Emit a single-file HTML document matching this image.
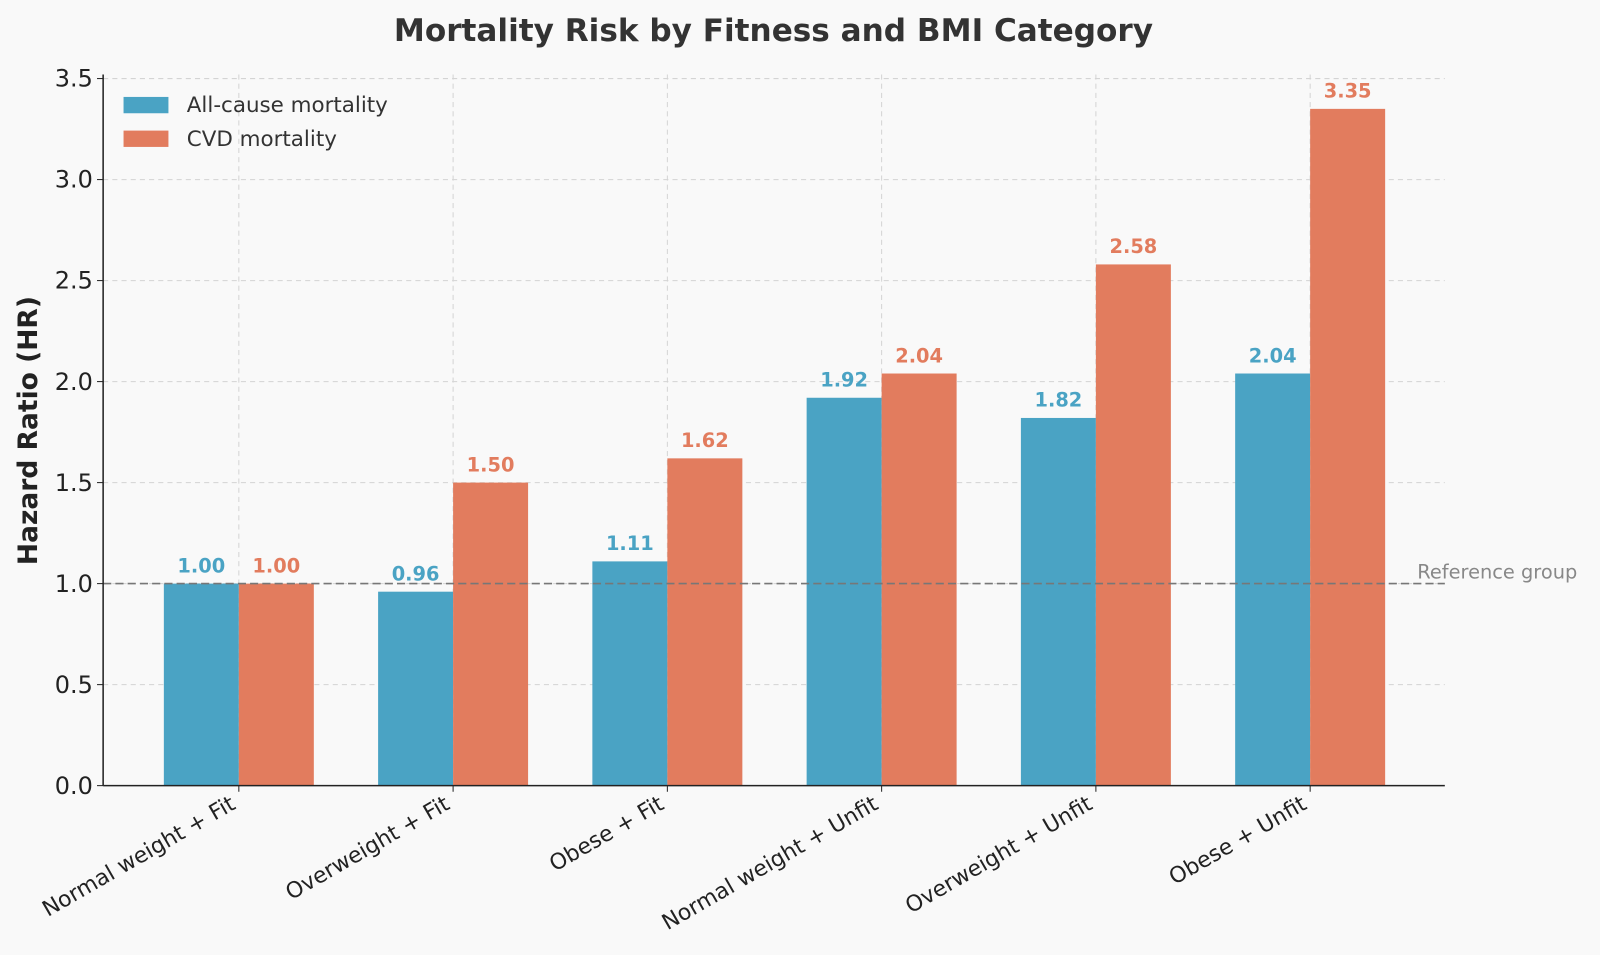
<!DOCTYPE html>
<html><head><meta charset="utf-8"><style>
body{margin:0;background:#f9f9f9;}
svg{display:block;font-family:"DejaVu Sans","Liberation Sans",sans-serif;}
</style></head><body>
<svg id="chart" width="1600" height="955" viewBox="0 0 1568 936">
<rect width="1568" height="936" fill="#f9f9f9"/>
<text x="758" y="40" text-anchor="middle" font-size="30.5" font-weight="bold" fill="#333">Mortality Risk by Fitness and BMI Category</text>
<text transform="translate(36,422) rotate(-90)" text-anchor="middle" font-size="26" font-weight="bold" fill="#222">Hazard Ratio (HR)</text>
<g id="grid"></g><g id="bars"></g><g id="labels"></g><g id="axes"></g>
<g>
<rect x="121" y="95" width="44" height="16" fill="#4aa3c4"/>
<text x="183" y="110" font-size="21" fill="#333">All-cause mortality</text>
<rect x="121" y="128" width="44" height="16" fill="#e27c5e"/>
<text x="183" y="143" font-size="21" fill="#333">CVD mortality</text>
</g>
</svg>
<script>
const categories=["Normal weight + Fit","Overweight + Fit","Obese + Fit","Normal weight + Unfit","Overweight + Unfit","Obese + Unfit"];
const allCause=[1.00,0.96,1.11,1.92,1.82,2.04];
const cvd=[1.00,1.50,1.62,2.04,2.58,3.35];
const yTicks=[0,0.5,1,1.5,2,2.5,3,3.5];
const refValue=1.0;
const NS="http://www.w3.org/2000/svg";
const L=101,R=1416,Y0=770,YTOP=77,YMAX=3.5;
const y=v=>Y0-(v/YMAX)*(Y0-YTOP);
const x=i=>234+210*i;
const bw=73.5;
function mk(tag,attrs,parent){const e=document.createElementNS(NS,tag);for(const k in attrs)e.setAttribute(k,attrs[k]);document.getElementById(parent).appendChild(e);return e;}
yTicks.forEach(t=>{
  if(t>0){const g=mk('line',{x1:L,x2:R,y1:y(t),y2:y(t),stroke:'#d4d4d4','stroke-dasharray':'5,4','stroke-width':1},'grid');
  
  }
  const tl=mk('text',{x:L-10,y:y(t)+8,'text-anchor':'end','font-size':23.5,fill:'#222'},'axes');tl.textContent=t.toFixed(1);
  
  
  const tk=mk('line',{x1:L-6,x2:L,y1:y(t),y2:y(t),stroke:'#222'},'axes');
  
  
});
categories.forEach((c,i)=>{
  const g=mk('line',{x1:x(i),x2:x(i),y1:YTOP-4,y2:Y0,stroke:'#d4d4d4','stroke-dasharray':'5,4'},'grid');
  
  
  const b1=mk('rect',{x:x(i)-bw,y:y(allCause[i]),width:bw,height:Y0-y(allCause[i]),fill:'#4aa3c4'},'bars');
  
  
  const b2=mk('rect',{x:x(i),y:y(cvd[i]),width:bw,height:Y0-y(cvd[i]),fill:'#e27c5e'},'bars');
  
  
  const t1=mk('text',{x:x(i)-bw/2,y:y(allCause[i])-11,'text-anchor':'middle','font-size':19,'font-weight':'bold',fill:'#4aa3c4'},'labels');t1.textContent=allCause[i].toFixed(2);
  
  
  const t2=mk('text',{x:x(i)+bw/2,y:y(cvd[i])-11,'text-anchor':'middle','font-size':19,'font-weight':'bold',fill:'#e27c5e'},'labels');t2.textContent=cvd[i].toFixed(2);
  
  
  const xl=mk('text',{transform:`translate(${x(i)-2},${Y0+22}) rotate(-30)`,'text-anchor':'end','font-size':21.5,fill:'#222'},'axes');xl.textContent=c;
  
  
  const tk=mk('line',{x1:x(i),x2:x(i),y1:Y0,y2:Y0+6,stroke:'#222'},'axes');
  
  
});
const rl=mk('line',{x1:L,x2:R,y1:y(refValue),y2:y(refValue),stroke:'#777','stroke-dasharray':'8,4','stroke-width':1.6},'labels');


const rt=mk('text',{x:1389,y:y(refValue)-5,'font-size':19,fill:'#888'},'labels');rt.textContent='Reference group';


const ax1=mk('line',{x1:L,x2:L,y1:YTOP-4,y2:Y0,stroke:'#222','stroke-width':1.5},'axes');


const ax2=mk('line',{x1:L,x2:R,y1:Y0,y2:Y0,stroke:'#222','stroke-width':1.5},'axes');


</script>
</body></html>
